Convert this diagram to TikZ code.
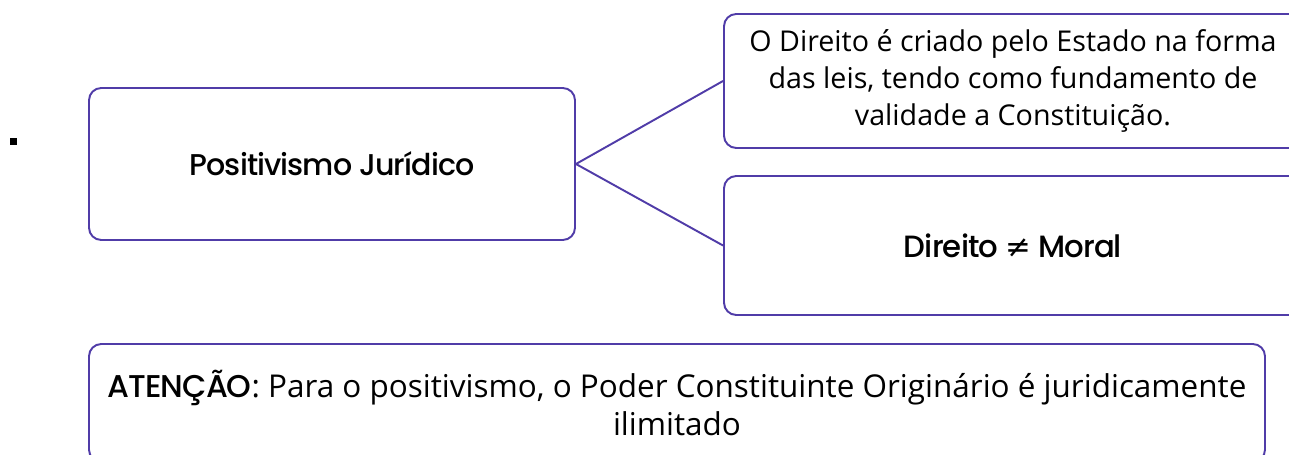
\documentclass[tikz,border=0pt]{standalone}
\usepackage{fontspec}
\setmainfont{Open Sans}
\newfontfamily\geo{Poppins Medium}[LetterSpace=-3]
\usepackage{tikz}

\definecolor{roxo}{RGB}{80,60,168}
\tikzset{caixa/.style={draw=roxo, line width=1.1pt, rounded corners=7pt, fill=white, align=center, inner sep=0pt}}

\begin{document}
\begin{tikzpicture}
\useasboundingbox (0,0) rectangle (25.78,-9.1);
\clip (0,0) rectangle (25.78,-9.1);
\node[fill=black, inner sep=0pt, minimum size=0.14cm] (marca) at (0.27,-2.84) {};
\node[caixa, minimum width=9.72cm, minimum height=3.04cm, font=\geo\fontsize{17.1}{20}\selectfont] (pos) at (6.64,-3.28) {Positivismo Jurídico};
\node[caixa, minimum width=11.56cm, minimum height=2.68cm, font=\fontsize{16.3}{21.3}\selectfont] (lei) at (20.26,-1.62) {O Direito é criado pelo Estado na forma\\das leis, tendo como fundamento de\\validade a Constituição.};
\node[caixa, minimum width=11.56cm, minimum height=2.78cm, font=\geo\fontsize{17.5}{20}\selectfont] (moral) at (20.26,-4.91) {Direito {\fontspec{DejaVu Sans}≠} Moral};
\node[caixa, minimum width=23.52cm, minimum height=2.36cm, font=\fontsize{17.9}{21.8}\selectfont] (atencao) at (13.54,-8.06) {{\geo ATENÇÃO}: Para o positivismo, o Poder Constituinte Originário é juridicamente\\ilimitado};
\draw[roxo, line width=1.1pt] (pos.east) -- (lei.west);
\draw[roxo, line width=1.1pt] (pos.east) -- (moral.west);
\end{tikzpicture}
\end{document}
